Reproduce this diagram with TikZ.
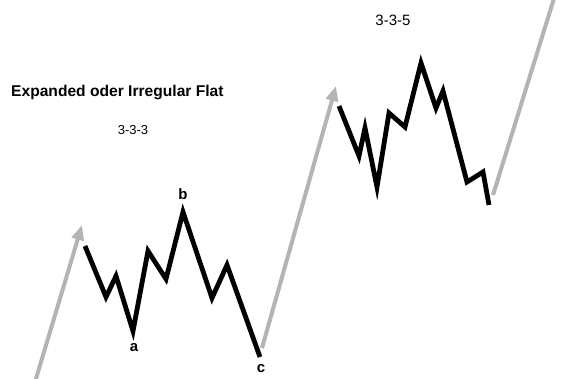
\documentclass[tikz,border=0pt]{standalone}
\usepackage{fontspec}
\setmainfont{Liberation Sans}
\usetikzlibrary{arrows.meta}
\definecolor{wavegray}{HTML}{B4B4B4}
\tikzset{
  wave/.style={line width=4.8pt, black, line join=miter, miter limit=10},
  trend/.style={line width=4pt, wavegray, -{Triangle[length=15pt,width=12pt]}},
  trendplain/.style={line width=4pt, wavegray},
  lbl/.style={font=\bfseries\fontsize{15}{17}\selectfont, inner sep=0pt},
}
\begin{document}
\begin{tikzpicture}[x=1pt,y=-1pt]
\useasboundingbox (0,0) rectangle (564,378);
\begin{scope}
\clip (0,0) rectangle (564,378);
% trend legs
\coordinate (s1) at (35,382);
\coordinate (e1) at (82,225);
\coordinate (s2) at (262,348);
\coordinate (e2) at (336,86);
\coordinate (s3) at (493,195);
\coordinate (e3) at (556,-8);
\draw[trend] (s1) -- (e1);
\draw[trend] (s2) -- (e2);
\draw[trendplain] (s3) -- (e3);
% first flat 3-3-3
\coordinate (p1) at (85,246);
\coordinate (p2) at (106,297);
\coordinate (p3) at (116,276);
\coordinate (pa) at (133,331);
\coordinate (p5) at (148,251);
\coordinate (p6) at (166,279);
\coordinate (pb) at (183,212);
\coordinate (p8) at (212,298);
\coordinate (p9) at (227,265);
\coordinate (pc) at (260,357);
\draw[wave] (p1) -- (p2) -- (p3) -- (pa) -- (p5) -- (p6) -- (pb) -- (p8) -- (p9) -- (pc);
% second 3-3-5
\coordinate (q1) at (339,106);
\coordinate (q2) at (359,156);
\coordinate (q3) at (365,128);
\coordinate (q4) at (377,187);
\coordinate (q5) at (389,113);
\coordinate (q6) at (405,127);
\coordinate (q7) at (421,63);
\coordinate (q8) at (436,108);
\coordinate (q9) at (443,91);
\coordinate (q10) at (467,182);
\coordinate (q11) at (483,172);
\coordinate (q12) at (489,205);
\draw[wave] (q1) -- (q2) -- (q3) -- (q4) -- (q5) -- (q6) -- (q7) -- (q8) -- (q9) -- (q10) -- (q11) -- (q12);
\end{scope}
% labels
\node[lbl] (la) at (134,348) {a};
\node[lbl] (lb) at (183,194) {b};
\node[lbl] (lc) at (261,369) {c};
\node[font=\bfseries\fontsize{15.6}{18}\selectfont, inner sep=0pt, anchor=west] (title) at (11,92) {Expanded oder Irregular Flat};
\node[font=\fontsize{13}{15}\selectfont, inner sep=0pt] (t333) at (133,130) {3-3-3};
\node[font=\fontsize{15}{18}\selectfont, inner sep=0pt] (t335) at (393,20) {3-3-5};
\end{tikzpicture}
\end{document}
